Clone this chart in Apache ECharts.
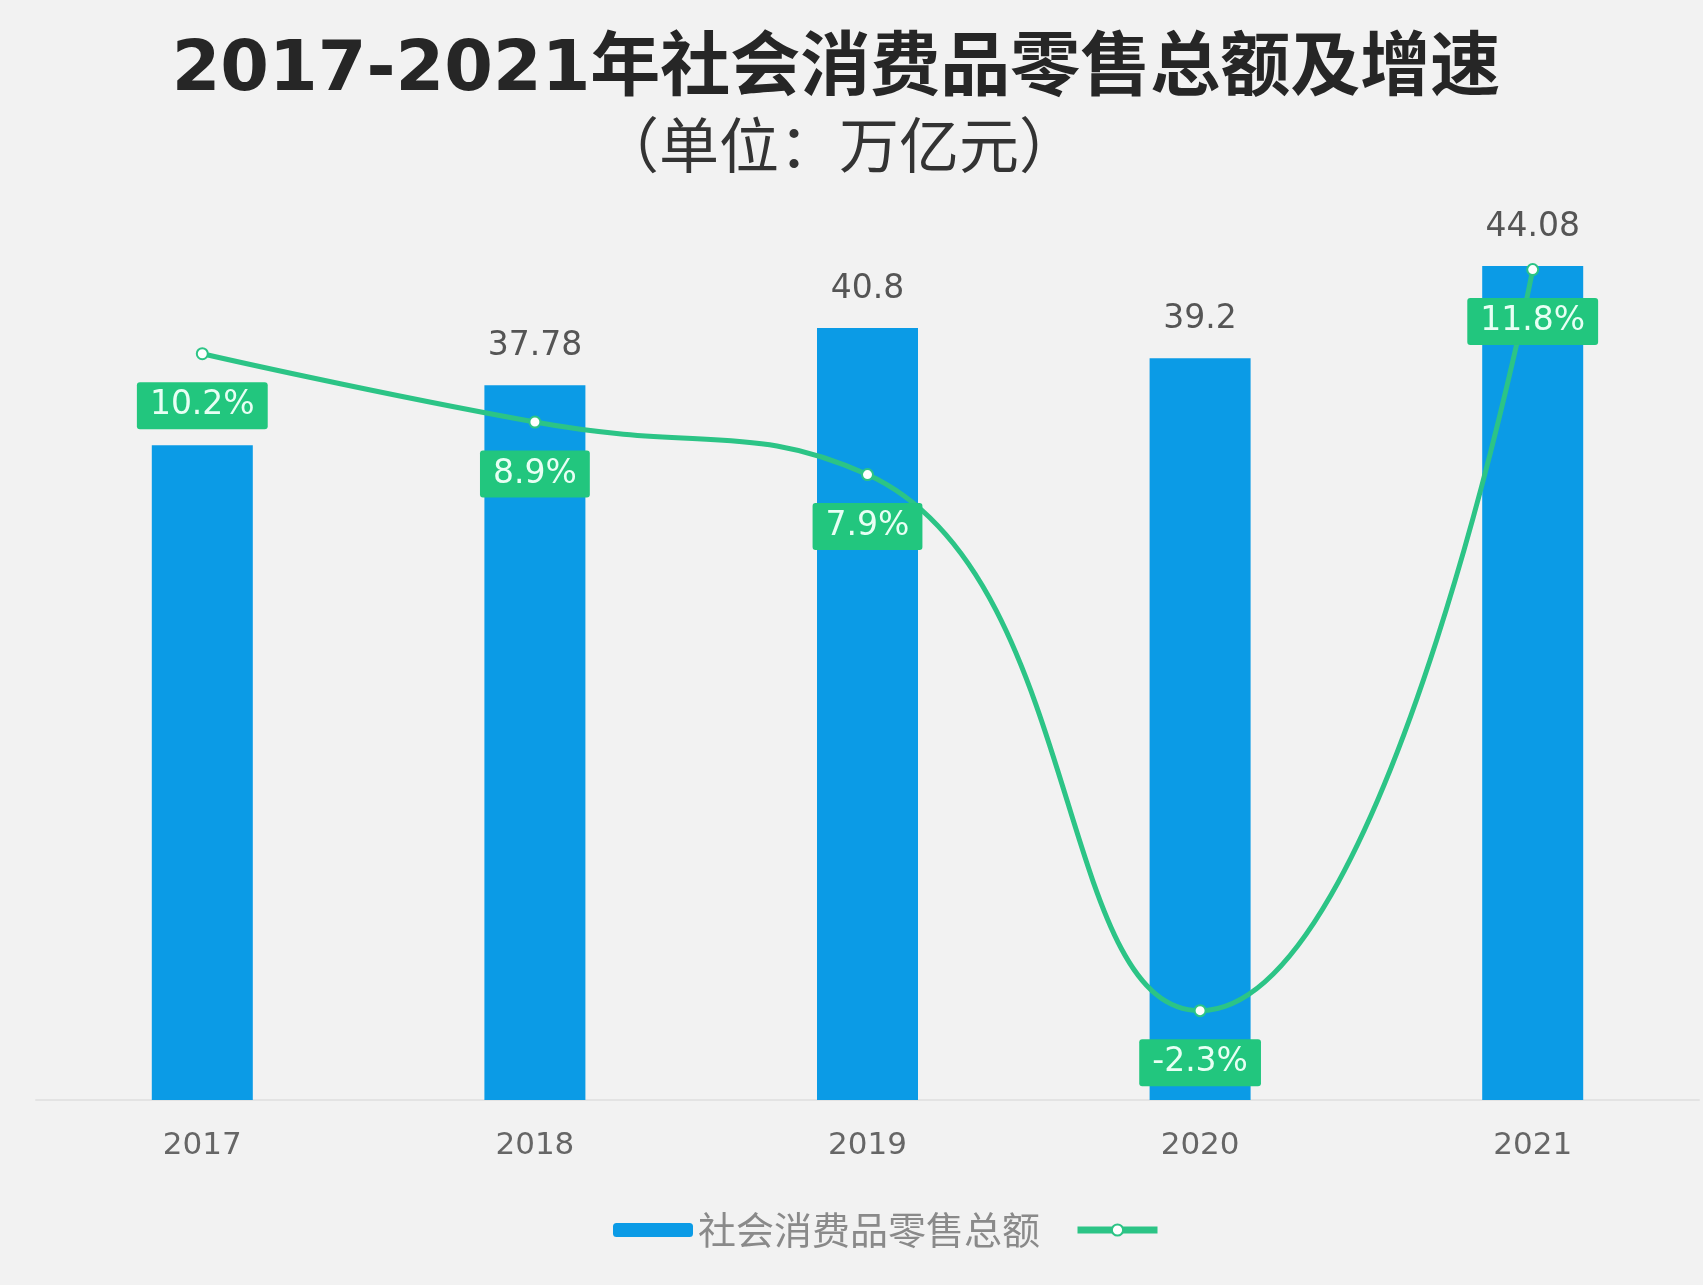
<!DOCTYPE html>
<html>
<head>
<meta charset="utf-8">
<title>2017-2021年社会消费品零售总额及增速</title>
<script src="https://cdn.jsdelivr.net/npm/echarts@6/dist/echarts.min.js"></script>
<style>
  html, body { margin: 0; padding: 0; background: #f2f2f2; }
  #chart { width: 1703px; height: 1285px; }
</style>
</head>
<body>
<div id="chart"></div>
<script>
// 年份
const years = ['2017', '2018', '2019', '2020', '2021'];
// 社会消费品零售总额（万亿元）
const retailTotal = [34.6, 37.78, 40.8, 39.2, 44.08];
// 增速（%）
const growthRate = [10.2, 8.9, 7.9, -2.3, 11.8];

const barName = '社会消费品零售总额';
const lineName = '增速';
const green = '#22c67e';
const cjkFont = '"Noto Sans CJK SC", "Noto Sans", sans-serif';
const numFont = '"DejaVu Sans", "Noto Sans CJK SC", sans-serif';

let myChart = echarts.init(document.getElementById('chart'));

let option = {
    backgroundColor: '#f2f2f2',
    textStyle: { fontFamily: cjkFont },
    // 标题和单位用 graphic 精确居中
    graphic: [
        {
            type: 'text',
            x: 836,
            y: 72,
            style: {
                text: '2017-2021年社会消费品零售总额及增速',
                font: 'bold 70px ' + numFont,
                fill: '#262626',
                align: 'center',
                verticalAlign: 'middle'
            }
        },
        {
            type: 'text',
            x: 839,
            y: 145,
            style: {
                text: '（单位：万亿元）',
                font: '60px ' + cjkFont,
                fill: '#333',
                align: 'center',
                verticalAlign: 'middle'
            }
        }
    ],
    legend: {
        left: 608,
        top: 1206,
        itemWidth: 80,
        itemHeight: 14,
        itemGap: 34,
        data: [barName, lineName],
        formatter: function (name) {
            return name === lineName ? '' : name;
        },
        lineStyle: { width: 7 },
        textStyle: { fontSize: 38, color: '#8a8a8a' }
    },
    grid: {
        left: 36,
        right: 4,
        top: 154,
        bottom: 185
    },
    xAxis: {
        type: 'category',
        data: years,
        axisLine: { lineStyle: { color: '#e3e3e3', width: 2 } },
        axisTick: { show: false },
        axisLabel: { fontSize: 31, color: '#666', margin: 30, fontFamily: numFont }
    },
    yAxis: [
        { type: 'value', min: 0, max: 50, show: false, splitLine: { show: false } },
        { type: 'value', min: -4, max: 14, show: false, splitLine: { show: false } }
    ],
    series: [
        {
            name: barName,
            type: 'bar',
            data: retailTotal,
            barWidth: 101,
            itemStyle: { color: '#0b9be6' },
            label: {
                show: true,
                position: 'top',
                distance: 22,
                fontSize: 33,
                fontFamily: numFont,
                color: '#555'
            }
        },
        {
            name: lineName,
            type: 'line',
            yAxisIndex: 1,
            data: growthRate,
            smooth: true,
            symbol: 'emptyCircle',
            symbolSize: 11,
            lineStyle: { color: '#2cc486', width: 5 },
            itemStyle: { color: '#2cc486', borderWidth: 3 },
            label: {
                show: true,
                position: 'bottom',
                distance: 22,
                formatter: '{c}%',
                fontSize: 33,
                fontFamily: numFont,
                color: '#e8fff4',
                backgroundColor: green,
                borderRadius: 3,
                padding: [7, 13, 7, 13]
            },
            z: 5
        }
    ]
};
option && myChart.setOption(option);
</script>
</body>
</html>
